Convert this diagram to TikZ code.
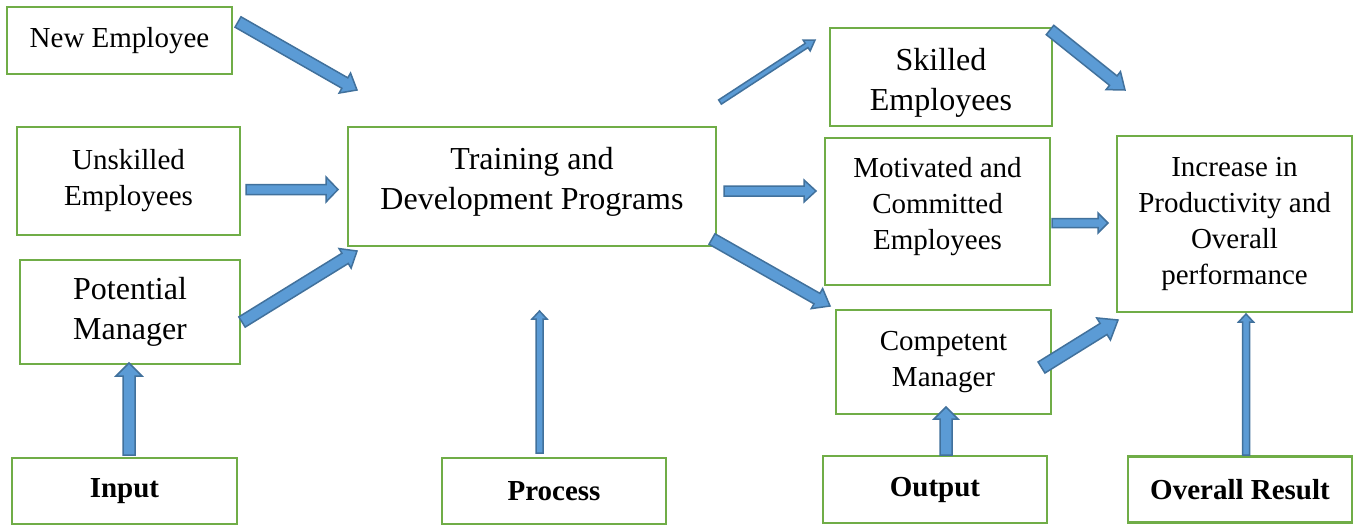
\documentclass[tikz,border=0pt]{standalone}
\usepackage{fontspec}
\setmainfont{Liberation Serif}
\usetikzlibrary{calc}
\definecolor{boxgreen}{HTML}{70AD47}
\definecolor{arrowfill}{HTML}{5B9BD5}
\definecolor{arrowline}{HTML}{41719C}
\tikzset{
  box/.style={draw=boxgreen, line width=2.6pt, fill=white, align=center, inner sep=2pt,
    font=\fontsize{29}{36}\selectfont},
  txt/.style={align=center, inner sep=0pt, font=\fontsize{29}{36}\selectfont},
  bigtext/.style={font=\fontsize{32}{40}\selectfont},
  boldtext/.style={font=\fontsize{29}{36}\selectfont\bfseries},
  barrow/.style={draw=arrowline, fill=arrowfill, line width=1.5pt, line join=miter},
}
% block arrow: #1 tail, #2 tip, #3 half shaft width, #4 half head width, #5 head length
\newcommand\blockarrow[5]{%
  \coordinate (neck) at ($(#2)!#5!(#1)$);
  \draw[barrow] ($(#1)!#3!90:(#2)$) -- ($(neck)!#3!90:(#2)$) -- ($(neck)!#4!90:(#2)$)
    -- (#2) -- ($(neck)!#4!-90:(#2)$) -- ($(neck)!#3!-90:(#2)$) -- ($(#1)!#3!-90:(#2)$) -- cycle;
}
\begin{document}
\begin{tikzpicture}[x=1pt,y=-1pt]
\fill[white] (0,0) rectangle (1354,525);
\useasboundingbox (0,0) rectangle (1354,525);

% input column
\node[box, minimum width=225pt, minimum height=67pt] (newemp) at (119.5,40.5) {New Employee};
\node[box, minimum width=223pt, minimum height=108pt] (unskilled) at (128.5,181) {Unskilled\\Employees};
\node[box, bigtext, minimum width=220pt, minimum height=104pt] (potential) at (130,312) {Potential\\Manager};

% process
\node[box, minimum width=368pt, minimum height=119pt] (training) at (532,186.5) {};
\node[txt, bigtext] (trainingtext) at ($(training.center)+(0,-5)$) {Training and\\Development Programs};

% output column
\node[box, minimum width=222pt, minimum height=98pt] (skilled) at (941,77) {};
\node[txt, bigtext] (skilledtext) at ($(skilled.center)+(0,6)$) {Skilled\\Employees};
\node[box, minimum width=225pt, minimum height=147pt] (motivated) at (937.5,211.5) {};
\node[txt] (motivatedtext) at ($(motivated.center)+(0,-5)$) {Motivated and\\Committed\\Employees};
\node[box, minimum width=215pt, minimum height=104pt] (competent) at (943.5,362) {Competent\\Manager};

% result
\node[box, minimum width=235pt, minimum height=176pt] (increase) at (1234.5,224) {Increase in\\Productivity and\\Overall\\performance};

% bottom labels
\node[box, boldtext, minimum width=225pt, minimum height=66pt] (input) at (124.5,491) {Input};
\node[box, boldtext, minimum width=224pt, minimum height=66pt] (process) at (554,491) {Process};
\node[box, boldtext, minimum width=224pt, minimum height=67pt] (output) at (935,489.5) {Output};
\node[box, boldtext, minimum width=224pt, minimum height=66pt] (overall) at (1240,489.7) {Overall Result};

% arrow end points
\coordinate (a1t) at (238,22);    \coordinate (a1h) at (357,90);
\coordinate (a2t) at (246,189.5); \coordinate (a2h) at (338,189.5);
\coordinate (a3t) at (242,322);   \coordinate (a3h) at (357,251);
\coordinate (a4t) at (720,102);   \coordinate (a4h) at (815,40);
\coordinate (a5t) at (724,191);   \coordinate (a5h) at (816,191);
\coordinate (a6t) at (712,239);   \coordinate (a6h) at (830,306);
\coordinate (a7t) at (1050,30);   \coordinate (a7h) at (1125,90);
\coordinate (a8t) at (1052,223);  \coordinate (a8h) at (1108,223);
\coordinate (a9t) at (1041.5,367.5); \coordinate (a9h) at (1118,320);
\coordinate (a10t) at (129,455);  \coordinate (a10h) at (129,363);
\coordinate (a11t) at (539.5,453); \coordinate (a11h) at (539.5,311);
\coordinate (a12t) at (946,455);  \coordinate (a12h) at (946,407);
\coordinate (a13t) at (1246,455); \coordinate (a13h) at (1246,314);

\blockarrow{a1t}{a1h}{6pt}{11.5pt}{14pt}
\blockarrow{a2t}{a2h}{5pt}{12.5pt}{12pt}
\blockarrow{a3t}{a3h}{6pt}{11.5pt}{14pt}
\blockarrow{a4t}{a4h}{2.5pt}{6.5pt}{10pt}
\blockarrow{a5t}{a5h}{5pt}{11pt}{12pt}
\blockarrow{a6t}{a6h}{6pt}{11.5pt}{15pt}
\blockarrow{a7t}{a7h}{6pt}{11.5pt}{15pt}
\blockarrow{a8t}{a8h}{4.5pt}{10pt}{10pt}
\blockarrow{a9t}{a9h}{6.5pt}{13pt}{17pt}
\blockarrow{a10t}{a10h}{6pt}{13pt}{13pt}
\blockarrow{a11t}{a11h}{3.5pt}{7.5pt}{8pt}
\blockarrow{a12t}{a12h}{6pt}{12pt}{12pt}
\blockarrow{a13t}{a13h}{3.5pt}{7.5pt}{8pt}
\end{tikzpicture}
\end{document}
